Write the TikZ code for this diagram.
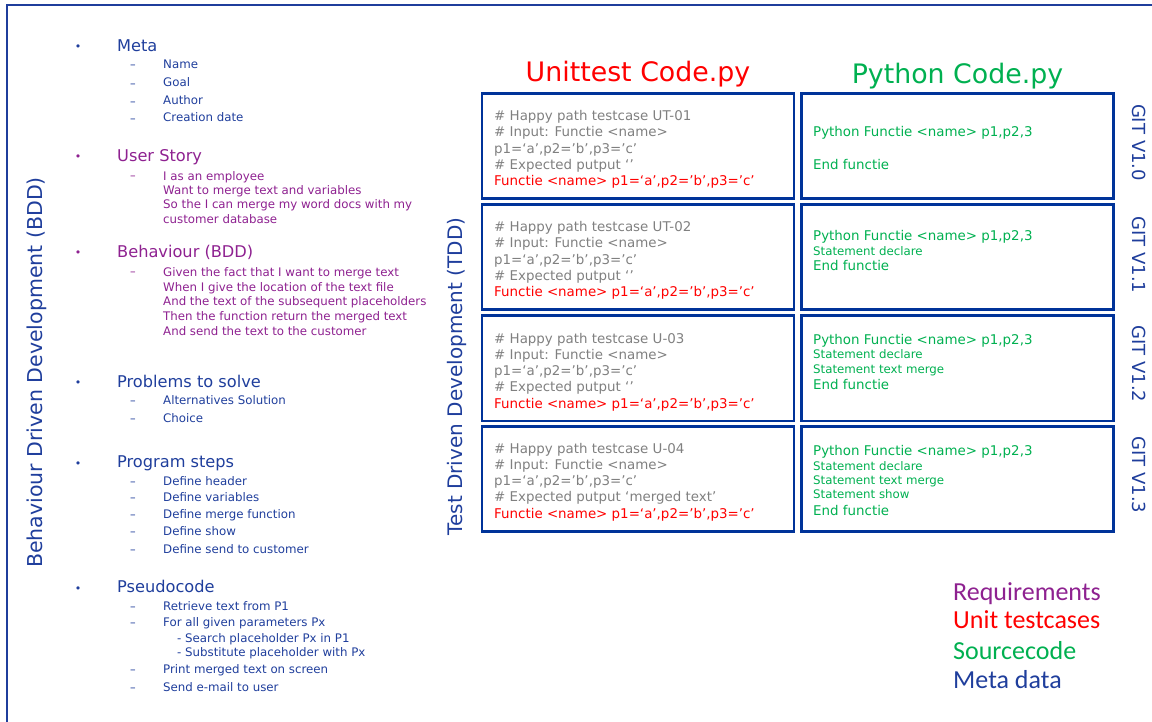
\documentclass[tikz,border=0pt]{standalone}
\usepackage{fontspec}
\setmainfont{DejaVu Sans}
\newfontfamily\legendfont{Carlito}
\usepackage{xcolor}
\usepackage{tikz}
\definecolor{metablue}{HTML}{1F3E9C}
\definecolor{boxblue}{HTML}{003399}
\definecolor{story}{HTML}{8E2190}
\definecolor{testred}{HTML}{FF0000}
\definecolor{codegreen}{HTML}{00B050}
\definecolor{comment}{HTML}{808080}
\tikzset{
  frame/.style={draw=metablue, line width=1.6pt},
  txt/.style={inner sep=0pt, text depth=0pt, text height=#1},
  head/.style={txt=13.5pt, anchor=west, font=\fontsize{16.2}{19}\selectfont},
  sub/.style={txt=8.6pt, anchor=west, font=\fontsize{11.8}{14}\selectfont},
  subml/.style={inner sep=0pt, anchor=west, align=left, font=\fontsize{11.8}{14.33}\selectfont},
  bul/.style={txt=12pt, font=\fontsize{11}{13}\selectfont},
  dsh/.style={txt=9pt, font=\fontsize{11.2}{14}\selectfont},
  side/.style={txt=10.5pt, font=\fontsize{20.5}{24}\selectfont, text=metablue, rotate=90},
  title/.style={txt=14.5pt, font=\fontsize{26.8}{30}\selectfont},
  box/.style={draw=boxblue, line width=2.6pt, minimum width=312pt, minimum height=105pt, inner sep=0pt},
  code/.style={inner sep=0pt, anchor=west, align=left, font=\fontsize{13.4}{16.25}\selectfont, text=comment},
  py/.style={txt=10.5pt, anchor=west, font=\fontsize{13.4}{16}\selectfont, text=codegreen},
  pys/.style={txt=8.5pt, anchor=west, font=\fontsize{11.8}{14}\selectfont, text=codegreen},
  git/.style={txt=5.5pt, font=\fontsize{18}{22}\selectfont, text=metablue, rotate=-90},
  legend/.style={txt=15.5pt, anchor=west, font=\legendfont\fontsize{26}{30}\selectfont}
}
\begin{document}
\begin{tikzpicture}[x=1pt, y=-1pt]
  \useasboundingbox (0,0) rectangle (1152,722);
  \draw[frame] (1152,5) -- (7,5) -- (7,722);

  % left list
  \node[bul, text=metablue] (b1) at (78,45) {\textbullet};
  \node[head, text=metablue] (meta) at (117,45) {Meta};
  \node[dsh, text=metablue] (d11) at (133,64.3) {–};
  \node[sub, text=metablue] (name) at (163,64.3) {Name};
  \node[dsh, text=metablue] (d12) at (133,82.7) {–};
  \node[sub, text=metablue] (goal) at (163,82.7) {Goal};
  \node[dsh, text=metablue] (d13) at (133,100.7) {–};
  \node[sub, text=metablue] (author) at (163,100.7) {Author};
  \node[dsh, text=metablue] (d14) at (133,117.7) {–};
  \node[sub, text=metablue] (cdate) at (163,117.7) {Creation date};

  \node[bul, text=story] (b2) at (78,155) {\textbullet};
  \node[head, text=story] (ustory) at (117,155) {User Story};
  \node[dsh, text=story] (d21) at (133,174.7) {–};
  \node[subml, text=story] (ustext) at (163,197.2) {I as an employee\\Want to merge text and variables\\So the I can merge my word docs with my\\customer database};

  \node[bul, text=story] (b3) at (78,251) {\textbullet};
  \node[head, text=story] (behav) at (117,251) {Behaviour (BDD)};
  \node[dsh, text=story] (d31) at (133,270.7) {–};
  \node[subml, text=story, font=\fontsize{11.8}{14.65}\selectfont] (bhtext) at (163,301.5) {Given the fact that I want to merge text\\When I give the location of the text file\\And the text of the subsequent placeholders\\Then the function return the merged text\\And send the text to the customer};

  \node[bul, text=metablue] (b4) at (78,380.7) {\textbullet};
  \node[head, text=metablue] (probs) at (117,380.7) {Problems to solve};
  \node[dsh, text=metablue] (d41) at (133,400) {–};
  \node[sub, text=metablue] (altsol) at (163,400) {Alternatives Solution};
  \node[dsh, text=metablue] (d42) at (133,417.7) {–};
  \node[sub, text=metablue] (choice) at (163,417.7) {Choice};

  \node[bul, text=metablue] (b5) at (78,461) {\textbullet};
  \node[head, text=metablue] (steps) at (117,461) {Program steps};
  \node[dsh, text=metablue] (d51) at (133,480.7) {–};
  \node[sub, text=metablue] (dhead) at (163,480.7) {Define header};
  \node[dsh, text=metablue] (d52) at (133,496.7) {–};
  \node[sub, text=metablue] (dvars) at (163,496.7) {Define variables};
  \node[dsh, text=metablue] (d53) at (133,514) {–};
  \node[sub, text=metablue] (dmerge) at (163,514) {Define merge function};
  \node[dsh, text=metablue] (d54) at (133,530.7) {–};
  \node[sub, text=metablue] (dshow) at (163,530.7) {Define show};
  \node[dsh, text=metablue] (d55) at (133,548.7) {–};
  \node[sub, text=metablue] (dsend) at (163,548.7) {Define send to customer};

  \node[bul, text=metablue] (b6) at (78,586) {\textbullet};
  \node[head, text=metablue] (pseudo) at (117,586) {Pseudocode};
  \node[dsh, text=metablue] (d61) at (133,605.7) {–};
  \node[sub, text=metablue] (retr) at (163,605.7) {Retrieve text from P1};
  \node[dsh, text=metablue] (d62) at (133,622) {–};
  \node[sub, text=metablue] (forall) at (163,622) {For all given parameters Px};
  \node[sub, text=metablue] (search) at (177,637.7) {- Search placeholder Px in P1};
  \node[sub, text=metablue] (subst) at (177,652) {- Substitute placeholder with Px};
  \node[dsh, text=metablue] (d63) at (133,669) {–};
  \node[sub, text=metablue] (print) at (163,669) {Print merged text on screen};
  \node[dsh, text=metablue] (d64) at (133,686.7) {–};
  \node[sub, text=metablue] (mail) at (163,686.7) {Send e-mail to user};

  % side labels
  \node[side] (bdd) at (37.1,372.5) {Behaviour Driven Development (BDD)};
  \node[side, font=\fontsize{20}{24}\selectfont] (tdd) at (457.7,376.5) {Test Driven Development (TDD)};

  % columns
  \node[title, text=testred] (uttitle) at (638,74) {Unittest Code.py};
  \node[title, text=codegreen] (pytitle) at (957.5,76.3) {Python Code.py};

  \node[box] (ut1) at (638,146.2) {};
  \node[box] (ut2) at (638,257) {};
  \node[box] (ut3) at (638,368.3) {};
  \node[box] (ut4) at (638,479.2) {};
  \node[box] (py1) at (957.5,146.2) {};
  \node[box] (py2) at (957.5,257) {};
  \node[box] (py3) at (957.5,368.3) {};
  \node[box] (py4) at (957.5,479.2) {};

  \node[code] (ut1code) at (494,149.5) {\# Happy path testcase UT-01\\\# Input: Functie <name>\\p1=‘a’,p2=’b’,p3=’c’\\\# Expected putput ‘’\\\color{testred}Functie <name> p1=‘a’,p2=’b’,p3=’c’};
  \node[code] (ut2code) at (494,260.5) {\# Happy path testcase UT-02\\\# Input: Functie <name>\\p1=‘a’,p2=’b’,p3=’c’\\\# Expected putput ‘’\\\color{testred}Functie <name> p1=‘a’,p2=’b’,p3=’c’};
  \node[code] (ut3code) at (494,372) {\# Happy path testcase U-03\\\# Input: Functie <name>\\p1=‘a’,p2=’b’,p3=’c’\\\# Expected putput ‘’\\\color{testred}Functie <name> p1=‘a’,p2=’b’,p3=’c’};
  \node[code] (ut4code) at (494,482) {\# Happy path testcase U-04\\\# Input: Functie <name>\\p1=‘a’,p2=’b’,p3=’c’\\\# Expected putput ‘merged text’\\\color{testred}Functie <name> p1=‘a’,p2=’b’,p3=’c’};

  \node[py] (py1a) at (813,131) {Python Functie <name> p1,p2,3};
  \node[py] (py1b) at (813,164) {End functie};
  \node[py] (py2a) at (813,235) {Python Functie <name> p1,p2,3};
  \node[pys] (py2b) at (813,251.5) {Statement declare};
  \node[py] (py2c) at (813,265) {End functie};
  \node[py] (py3a) at (813,339.3) {Python Functie <name> p1,p2,3};
  \node[pys] (py3b) at (813,354.3) {Statement declare};
  \node[pys] (py3c) at (813,369) {Statement text merge};
  \node[py] (py3d) at (813,384) {End functie};
  \node[py] (py4a) at (813,450.7) {Python Functie <name> p1,p2,3};
  \node[pys] (py4b) at (813,466.3) {Statement declare};
  \node[pys] (py4c) at (813,480) {Statement text merge};
  \node[pys] (py4d) at (813,494.3) {Statement show};
  \node[py] (py4e) at (813,510.7) {End functie};

  \node[git] (git10) at (1135,142.5) {GIT V1.0};
  \node[git] (git11) at (1135,255) {GIT V1.1};
  \node[git] (git12) at (1135,364) {GIT V1.2};
  \node[git] (git13) at (1135,475) {GIT V1.3};

  % legend
  \node[legend, text=story] (lreq) at (953,593) {Requirements};
  \node[legend, text=testred] (lut) at (953,621) {Unit testcases};
  \node[legend, text=codegreen] (lsrc) at (953,652) {Sourcecode};
  \node[legend, text=metablue] (lmeta) at (953,681) {Meta data};
\end{tikzpicture}
\end{document}
